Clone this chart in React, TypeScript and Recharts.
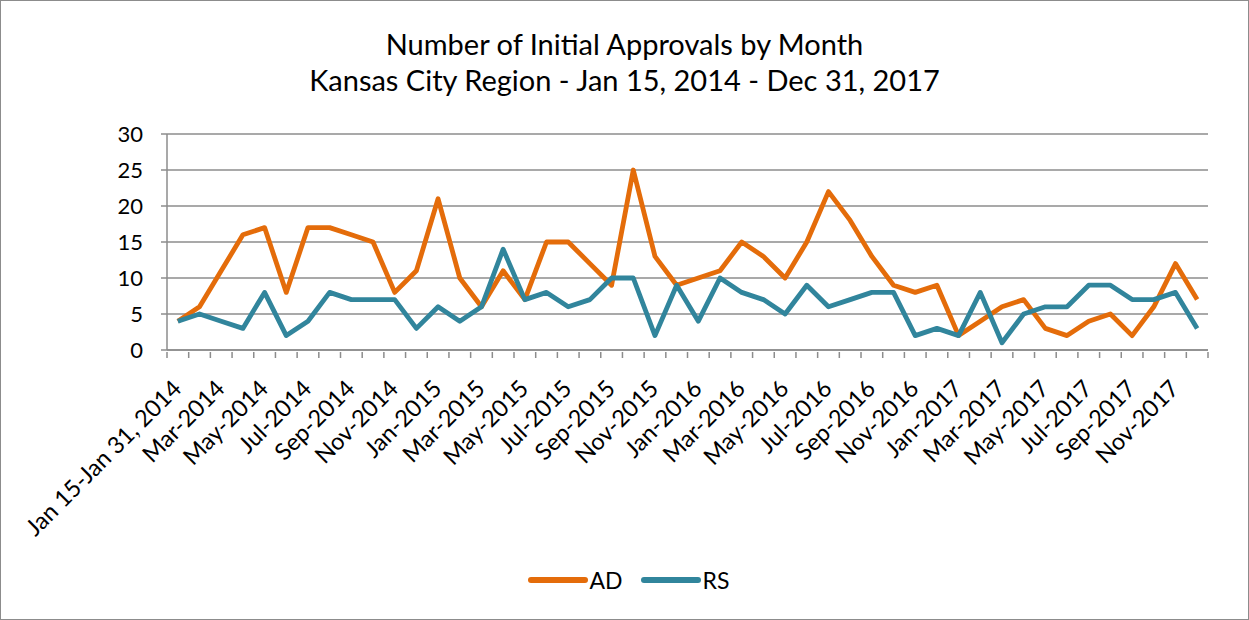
import React from "react"
import { LineChart, Line, XAxis, YAxis, CartesianGrid, Legend } from "recharts"

const months = [
  "Jan 15-Jan 31, 2014", "Feb-2014", "Mar-2014", "Apr-2014", "May-2014", "Jun-2014",
  "Jul-2014", "Aug-2014", "Sep-2014", "Oct-2014", "Nov-2014", "Dec-2014",
  "Jan-2015", "Feb-2015", "Mar-2015", "Apr-2015", "May-2015", "Jun-2015",
  "Jul-2015", "Aug-2015", "Sep-2015", "Oct-2015", "Nov-2015", "Dec-2015",
  "Jan-2016", "Feb-2016", "Mar-2016", "Apr-2016", "May-2016", "Jun-2016",
  "Jul-2016", "Aug-2016", "Sep-2016", "Oct-2016", "Nov-2016", "Dec-2016",
  "Jan-2017", "Feb-2017", "Mar-2017", "Apr-2017", "May-2017", "Jun-2017",
  "Jul-2017", "Aug-2017", "Sep-2017", "Oct-2017", "Nov-2017", "Dec-2017",
]

const adValues = [
  4, 6, 11, 16, 17, 8, 17, 17, 16, 15, 8, 11,
  21, 10, 6, 11, 7, 15, 15, 12, 9, 25, 13, 9,
  10, 11, 15, 13, 10, 15, 22, 18, 13, 9, 8, 9,
  2, 4, 6, 7, 3, 2, 4, 5, 2, 6, 12, 7,
]

const rsValues = [
  4, 5, 4, 3, 8, 2, 4, 8, 7, 7, 7, 3,
  6, 4, 6, 14, 7, 8, 6, 7, 10, 10, 2, 9,
  4, 10, 8, 7, 5, 9, 6, 7, 8, 8, 2, 3,
  2, 8, 1, 5, 6, 6, 9, 9, 7, 7, 8, 3,
]

const yTicks = [0, 5, 10, 15, 20, 25, 30]

const data = months.map((m, i) => ({ month: m, AD: adValues[i], RS: rsValues[i] }))

const W = 1249
const H = 620
const plotLeft = 167
const plotRight = 40
const band = (W - 2 - plotLeft - plotRight) / months.length

const AD_COLOR = "#E46C0A"
const RS_COLOR = "#31859C"
const FONT = "Lato, 'Open Sans', sans-serif"

// Excel style: tick marks sit between categories, labels every other month
const MonthTick = ({ x, y, payload, index }: any) => {
  const isLast = index === months.length - 1
  const lx = x + 5
  const ly = y + 38
  return (
    <g>
      <line x1={x - band / 2} y1={y} x2={x - band / 2} y2={y + 6} stroke="#8c8c8c" strokeWidth={1.5} />
      {isLast && <line x1={x + band / 2} y1={y} x2={x + band / 2} y2={y + 6} stroke="#8c8c8c" strokeWidth={1.5} />}
      {index % 2 === 0 && (
        <text
          x={lx}
          y={ly}
          transform={`rotate(-45, ${lx}, ${ly})`}
          textAnchor="end"
          fontSize={23.5}
          fill="#000"
          fontFamily={FONT}
        >
          {payload.value}
        </text>
      )}
    </g>
  )
}

const LegendContent = () => (
  <div style={{ display: "flex", justifyContent: "center", fontFamily: FONT, fontSize: 23, color: "#000", lineHeight: "28px", paddingLeft: 8 }}>
    {[{ name: "AD", color: AD_COLOR }, { name: "RS", color: RS_COLOR }].map((s) => (
      <div key={s.name} style={{ display: "flex", alignItems: "center", margin: "0 9px" }}>
        <svg width={60} height={10}>
          <line x1={3} y1={5} x2={57} y2={5} stroke={s.color} strokeWidth={6} strokeLinecap="round" />
        </svg>
        <span style={{ marginLeft: 2 }}>{s.name}</span>
      </div>
    ))}
  </div>
)

export default function App() {
  return (
    <div
      style={{
        position: "absolute",
        left: 0,
        top: 0,
        width: W,
        height: H,
        background: "#fff",
        border: "1px solid #8c8c8c",
        boxSizing: "border-box",
        fontFamily: FONT,
      }}
    >
      <div style={{ position: "absolute", top: 25, left: 0, width: W - 2, textAlign: "center", fontSize: 29, lineHeight: "36px", color: "#000" }}>
        <div>Number of Initial Approvals by Month</div>
        <div>Kansas City Region - Jan 15, 2014 - Dec 31, 2017</div>
      </div>
      <LineChart
        width={W - 2}
        height={H - 2}
        data={data}
        margin={{ top: 133, right: plotRight, left: 0, bottom: 0 }}
      >
        <CartesianGrid vertical={false} stroke="#8c8c8c" strokeWidth={1.5} />
        <XAxis
          dataKey="month"
          interval={0}
          tickLine={false}
          tickSize={0}
          height={241}
          padding={{ left: band / 2, right: band / 2 }}
          axisLine={{ stroke: "#8c8c8c", strokeWidth: 1.5 }}
          tick={<MonthTick />}
        />
        <YAxis
          width={plotLeft - 1}
          domain={[0, 30]}
          ticks={yTicks}
          tickSize={6}
          tickMargin={18}
          axisLine={{ stroke: "#8c8c8c", strokeWidth: 1.5 }}
          tickLine={{ stroke: "#8c8c8c", strokeWidth: 1.5 }}
          tick={{ fill: "#000", fontSize: 22, fontFamily: FONT }}
        />
        <Legend
          content={<LegendContent />}
          wrapperStyle={{ top: 565, left: 0, width: W - 2 }}
        />
        <Line dataKey="AD" stroke={AD_COLOR} strokeWidth={4.8} dot={false} isAnimationActive={false} strokeLinejoin="round" />
        <Line dataKey="RS" stroke={RS_COLOR} strokeWidth={4.8} dot={false} isAnimationActive={false} strokeLinejoin="round" />
      </LineChart>
    </div>
  )
}
